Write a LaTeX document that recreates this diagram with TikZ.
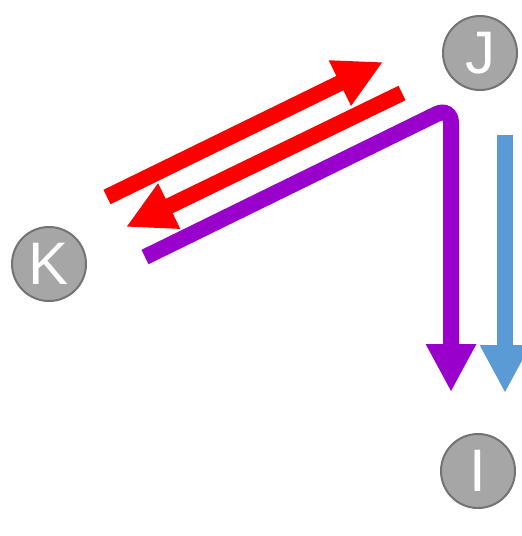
\documentclass[tikz,border=0pt]{standalone}
\usepackage{fontspec}
\setmainfont{Liberation Sans}
\usetikzlibrary{arrows.meta}

\definecolor{routered}{RGB}{255,0,0}
\definecolor{routepurple}{RGB}{153,0,204}
\definecolor{routeblue}{RGB}{91,155,213}

\begin{document}
\begin{tikzpicture}[
    x=1pt, y=-1pt,
    station/.style={circle, draw=black!55, line width=2pt, fill=black!35, minimum size=74pt, inner sep=0pt, text=white, font=\fontsize{60}{60}\selectfont},
    flow/.style={line width=16pt, -{Triangle[length=48pt, width=47pt]}},
]
\useasboundingbox (0,0) rectangle (522,536);
\clip (0,0) rectangle (522,536);

\node[station] (J) at (480,53) {J};
\node[station] (K) at (49,264) {K};
\node[station] (I) at (478,471) {I};

% ends of the route strokes
\coordinate (kj1) at (107,197);
\coordinate (kj2) at (383,62);
\coordinate (jk1) at (402,93);
\coordinate (jk2) at (126,227);
\coordinate (p1) at (145,257);
\coordinate (pc) at (451,107);
\coordinate (p2) at (451,392);
\coordinate (b1) at (505,135);
\coordinate (b2) at (505,393);

\draw[flow, routered] (kj1) -- (kj2);
\draw[flow, routered] (jk1) -- (jk2);
\draw[flow, routepurple, rounded corners=16pt] (p1) -- (pc) -- (p2);
\draw[flow, routeblue] (b1) -- (b2);

\end{tikzpicture}
\end{document}
